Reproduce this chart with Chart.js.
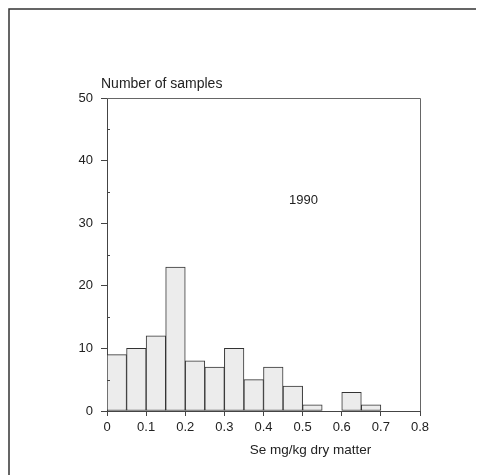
<!DOCTYPE html>
<html>
<head>
<meta charset="utf-8">
<script src="https://cdn.jsdelivr.net/npm/chart.js@4/dist/chart.umd.min.js"></script>
<style>
  body { margin: 0; background: #fff; }
  #wrap { width: 482px; height: 475px; position: relative; }
</style>
</head>
<body>
<div id="wrap"><canvas id="histograma" width="482" height="475"></canvas></div>
<script>
// Classes de Se (inicio de cada classe, largura 0.05) e numero de amostras
const inicioClasse = [0, 0.05, 0.1, 0.15, 0.2, 0.25, 0.3, 0.35, 0.4, 0.45, 0.5, 0.55, 0.6, 0.65];
const amostras = [9, 10, 12, 23, 8, 7, 10, 5, 7, 4, 1, 0, 3, 1];
const larguraClasse = 0.05;
const ticksX = [0, 0.1, 0.2, 0.3, 0.4, 0.5, 0.6, 0.7, 0.8];
const ticksY = [0, 10, 20, 30, 40, 50];
const ticksMenoresY = [5, 15, 25, 35, 45];

const fonte = { family: "'Liberation Sans', Arial, sans-serif", size: 13 };
const corTexto = "#222";
const corLinha = "#444";

// moldura, tracos menores e textos soltos
const extras = {
  id: "extras",
  afterDraw(chart) {
    const c = chart.ctx;
    const area = chart.chartArea;
    const x = chart.scales.x;
    const y = chart.scales.y;
    c.save();

    // moldura externa (topo e esquerda)
    c.strokeStyle = "#333";
    c.lineWidth = 1.5;
    c.beginPath();
    c.moveTo(9, 475);
    c.lineTo(9, 9);
    c.lineTo(476, 9);
    c.stroke();

    // caixa do grafico
    c.strokeStyle = "#666";
    c.lineWidth = 1;
    c.beginPath();
    c.moveTo(area.left, area.top + 0.5);
    c.lineTo(area.right + 0.5, area.top + 0.5);
    c.lineTo(area.right + 0.5, area.bottom);
    c.stroke();

    // tracos menores do eixo y, para dentro
    c.strokeStyle = corLinha;
    ticksMenoresY.forEach(v => {
      const py = Math.round(y.getPixelForValue(v)) + 0.5;
      c.beginPath();
      c.moveTo(area.left, py);
      c.lineTo(area.left + 3, py);
      c.stroke();
    });

    c.fillStyle = corTexto;
    c.font = "14px 'Liberation Sans', Arial, sans-serif";
    c.textBaseline = "middle";
    c.textAlign = "left";
    c.fillText("Number of samples", 101, 84);

    c.textAlign = "center";
    c.font = "13px 'Liberation Sans', Arial, sans-serif";
    c.fillText("1990", x.getPixelForValue(0.502), y.getPixelForValue(33.6));

    c.font = "13.5px 'Liberation Sans', Arial, sans-serif";
    c.fillText("Se mg/kg dry matter", x.getPixelForValue(0.52), 450);
    c.restore();
  }
};

new Chart(document.getElementById("histograma"), {
  type: "bar",
  data: {
    datasets: [{
      data: inicioClasse.map((v, i) => ({ x: v + larguraClasse / 2, y: amostras[i] })),
      backgroundColor: "#ececec",
      borderColor: "#333",
      borderWidth: 1,
      borderSkipped: false,
      barPercentage: 1,
      categoryPercentage: 1
    }]
  },
  options: {
    responsive: false,
    animation: false,
    events: [],
    layout: { padding: { left: 0, top: 98, right: 62, bottom: 0 } },
    plugins: {
      legend: { display: false },
      tooltip: { enabled: false },
      title: { display: false }
    },
    scales: {
      x: {
        type: "linear",
        offset: false,
        min: 0,
        max: 0.8,
        afterFit: s => { s.height = 64; },
        afterBuildTicks: s => { s.ticks = ticksX.map(v => ({ value: v })); },
        grid: { offset: false, drawOnChartArea: false, tickLength: 5, color: corLinha },
        border: { color: corLinha, width: 1 },
        ticks: {
          color: corTexto,
          font: fonte,
          padding: 4,
          maxRotation: 0,
          callback: v => String(Math.round(v * 10) / 10)
        }
      },
      y: {
        min: 0,
        max: 50,
        afterFit: s => { s.width = 107; },
        afterBuildTicks: s => { s.ticks = ticksY.map(v => ({ value: v })); },
        grid: { drawOnChartArea: false, tickLength: 6, color: corLinha },
        border: { color: corLinha, width: 1 },
        ticks: { color: corTexto, font: fonte, padding: 8 }
      }
    }
  },
  plugins: [extras]
});
</script>
</body>
</html>
